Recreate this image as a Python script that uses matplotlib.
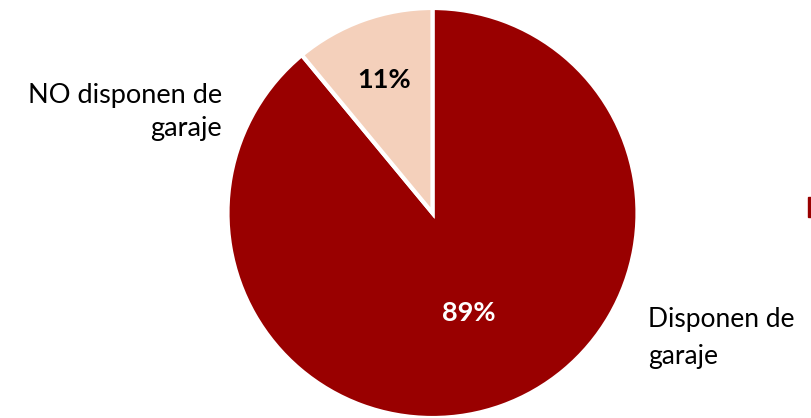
import matplotlib.pyplot as plt
from matplotlib.patches import Rectangle

categories = ['Disponen de\ngaraje', 'NO disponen de\ngaraje']
values = [89, 11]
colors = ['#990000', '#F4D0BB']
pct_colors = ['white', 'black']
pct_dist = [0.52, 0.69]

plt.rcParams['font.family'] = ['Lato', 'DejaVu Sans']

fig = plt.figure(figsize=(8.12, 4.18), dpi=100)
ax = fig.add_axes([227.5 / 812, 0 / 418, 410 / 812, 410 / 418])
wedges, texts, autotexts = ax.pie(values, colors=colors, startangle=90, counterclock=False,
                                  autopct='%d%%', pctdistance=0.6,
                                  wedgeprops=dict(edgecolor='white', linewidth=3))
for t, c, d in zip(autotexts, pct_colors, pct_dist):
    x, y = t.get_position()
    t.set_position((x / 0.6 * d, y / 0.6 * d))
    t.set_color(c)
    t.set_fontsize(19.5)
    t.set_fontweight('bold')
ax.set_xlim(-1, 1)
ax.set_ylim(-1, 1)
ax.set_aspect('equal')

fig.text(648 / 812, 1 - 338 / 418, categories[0], ha='left', va='center',
         fontsize=19, linespacing=1.57, multialignment='left')
fig.text(222 / 812, 1 - 112 / 418, categories[1], ha='right', va='center',
         fontsize=19.5, linespacing=1.41, multialignment='right')

# legend marker cut by the right edge
fig.patches.append(Rectangle((808 / 812, 1 - 217 / 418), 10 / 812, 20 / 418,
                             transform=fig.transFigure, color='#990000', figure=fig))

fig.savefig('out.png', dpi=100)
